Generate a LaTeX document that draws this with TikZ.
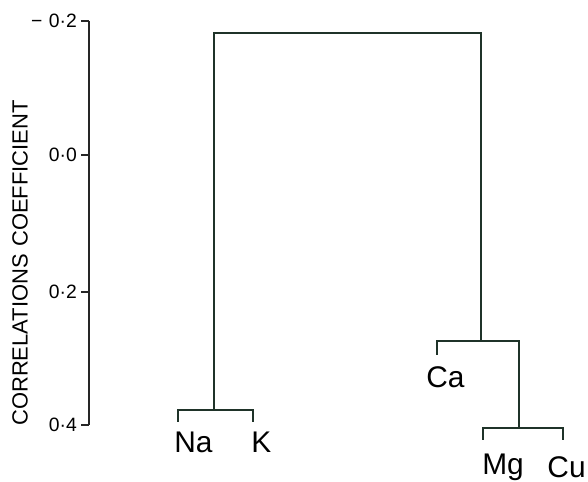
\documentclass[tikz,border=0pt]{standalone}
\usepackage{fontspec}
\setmainfont{Liberation Sans}
\usepackage{tikz}
\usetikzlibrary{positioning, calc}
\definecolor{inkline}{rgb}{0.12,0.2,0.16}
\tikzset{
  link/.style={draw=inkline, line width=1.1pt},
  axisline/.style={draw=black!85, line width=1.1pt},
  ticklab/.style={font=\fontsize{11}{13}\selectfont, anchor=east, inner sep=1pt},
  leaf/.style={font=\fontsize{17}{19}\selectfont, inner sep=0pt, anchor=west},
  axistitle/.style={font=\fontsize{12.5}{14}\selectfont, rotate=90}
}
\begin{document}
\begin{tikzpicture}[x=0.02cm, y=-0.02cm]
    \useasboundingbox (0,0) rectangle (588,482);

    % axis with ticks
    \draw[axisline] (89,21) -- (89,425);
    \foreach \yy/\lab in {21/{−\,\,0·2}, 155/{0·0}, 292/{0·2}, 425/{0·4}} {
      \draw[axisline] (81,\yy) -- (89,\yy);
      \node[ticklab] (t\yy) at (79,\yy) {\lab};
    }
    \node[axistitle] (title) at (20,263) {CORRELATIONS\,\,COEFFICIENT};

    % leaves
    \node[leaf] (na) at (174,442) {Na};
    \node[leaf] (k) at (251,442) {K};
    \node[leaf] (ca) at (426,377) {Ca};
    \node[leaf] (mg) at (482,467) {Mg};
    \node[leaf, anchor=east] (cu) at (586,467) {Cu};

    % cluster points
    \coordinate (naD) at (178,422);
    \coordinate (kD) at (253,422);
    \coordinate (caD) at (437,355);
    \coordinate (mgD) at (483,440);
    \coordinate (cuD) at (563,440);
    \coordinate (nak) at (214,410);
    \coordinate (mgcu) at (519,428);
    \coordinate (camg) at (481,341);
    \coordinate (root) at (347,33);

    \draw[link] (naD) |- (nak) -| (kD);
    \draw[link] (mgD) |- (mgcu) -| (cuD);
    \draw[link] (caD) |- (camg) -| (mgcu);
    \draw[link] (nak) |- (root) -| (camg);
\end{tikzpicture}
\end{document}
